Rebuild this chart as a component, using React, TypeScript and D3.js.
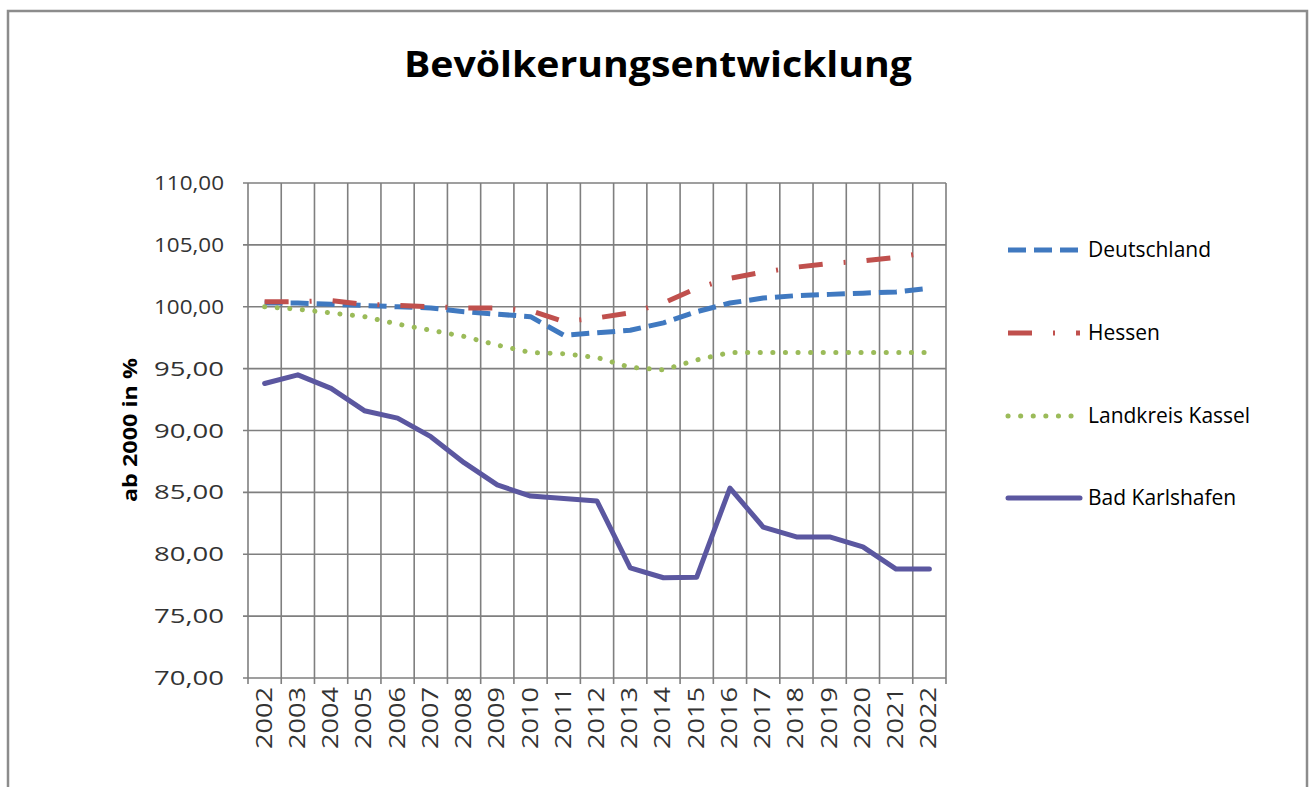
import React, { useEffect, useRef } from "react"
import * as d3 from "d3"

const years = [
  "2002", "2003", "2004", "2005", "2006", "2007", "2008", "2009", "2010", "2011", "2012",
  "2013", "2014", "2015", "2016", "2017", "2018", "2019", "2020", "2021", "2022"
]

const deutschland = [
  100.3, 100.3, 100.2, 100.1, 100.0, 99.9, 99.6, 99.4, 99.2, 97.7, 97.9,
  98.1, 98.7, 99.6, 100.3, 100.7, 100.9, 101.0, 101.1, 101.2, 101.5
]

const hessen = [
  100.4, 100.4, 100.5, 100.2, 100.1, 100.0, 99.9, 99.9, 99.7, 98.8, 99.1,
  99.5, 100.3, 101.5, 102.3, 102.8, 103.2, 103.5, 103.7, 104.0, 104.4
]

const landkreisKassel = [
  100.0, 99.8, 99.5, 99.2, 98.6, 98.1, 97.6, 96.9, 96.3, 96.2, 95.9,
  95.1, 94.9, 95.7, 96.3, 96.3, 96.3, 96.3, 96.3, 96.3, 96.3
]

const badKarlshafen = [
  93.8, 94.5, 93.4, 91.6, 91.0, 89.5, 87.4, 85.6, 84.7, 84.5, 84.3,
  78.9, 78.1, 78.15, 85.35, 82.2, 81.4, 81.4, 80.6, 78.8, 78.8
]

const yTicks = [70, 75, 80, 85, 90, 95, 100, 105, 110]

const seriesNames = ["Deutschland", "Hessen", "Landkreis Kassel", "Bad Karlshafen"]

const W = 1312
const H = 787

export default function App() {
  const ref = useRef<SVGSVGElement>(null)

  useEffect(() => {
    const svg = d3.select(ref.current)
    svg.selectAll("*").remove()

    const left = 248
    const right = 946
    const top = 183
    const bottom = 678
    const font = "'Open Sans', 'Liberation Sans', sans-serif"
    const grid = "#7f7f7f"

    const x = d3.scaleBand().domain(years).range([left, right])
    const y = d3.scaleLinear().domain([70, 110]).range([bottom, top])
    const cx = (yr: string) => (x(yr) as number) + x.bandwidth() / 2
    const fmt = (v: number) => d3.format(".2f")(v).replace(".", ",")

    // outer frame
    svg.append("rect")
      .attr("x", 8).attr("y", 11)
      .attr("width", 1299).attr("height", 790)
      .attr("fill", "#fff")
      .attr("stroke", "#8c8c8c")
      .attr("stroke-width", 2.5)

    svg.append("text")
      .attr("x", 658).attr("y", 77)
      .attr("text-anchor", "middle")
      .attr("font-family", font)
      .attr("font-weight", 700)
      .attr("font-size", 36)
      .attr("textLength", 508)
      .attr("lengthAdjust", "spacingAndGlyphs")
      .attr("fill", "#000")
      .text("Bevölkerungsentwicklung")

    // grid
    const g = svg.append("g")
    g.selectAll(".hg")
      .data(yTicks)
      .enter()
      .append("line")
      .attr("x1", left - 5).attr("x2", right)
      .attr("y1", d => y(d)).attr("y2", d => y(d))
      .attr("stroke", grid).attr("stroke-width", 1.6)

    const bounds = years.map(yr => x(yr) as number).concat([right])
    g.selectAll(".vg")
      .data(bounds)
      .enter()
      .append("line")
      .attr("x1", d => d).attr("x2", d => d)
      .attr("y1", top).attr("y2", bottom + 6)
      .attr("stroke", grid).attr("stroke-width", 1.6)

    // y tick labels
    svg.selectAll(".yl")
      .data(yTicks)
      .enter()
      .append("text")
      .attr("x", 224)
      .attr("y", d => y(d) + 7)
      .attr("text-anchor", "end")
      .attr("font-family", font)
      .attr("font-size", 20)
      .attr("textLength", 70)
      .attr("lengthAdjust", "spacingAndGlyphs")
      .attr("fill", "#333")
      .text(d => fmt(d))

    // x tick labels
    svg.selectAll(".xl")
      .data(years)
      .enter()
      .append("text")
      .attr("transform", d => `translate(${cx(d) + 7},${bottom + 9}) rotate(-90)`)
      .attr("text-anchor", "end")
      .attr("font-family", font)
      .attr("font-size", 21)
      .attr("textLength", 62)
      .attr("lengthAdjust", "spacingAndGlyphs")
      .attr("fill", "#333")
      .text(d => d)

    svg.append("text")
      .attr("transform", `translate(137,430) rotate(-90)`)
      .attr("text-anchor", "middle")
      .attr("font-family", font)
      .attr("font-weight", 700)
      .attr("font-size", 20)
      .attr("textLength", 144)
      .attr("lengthAdjust", "spacingAndGlyphs")
      .attr("fill", "#000")
      .text("ab 2000 in %")

    const styles = [
      { data: deutschland, color: "#4079c0", dash: "18 8", cap: "butt" },
      { data: hessen, color: "#c0504d", dash: "24 21 2 21", cap: "butt" },
      { data: landkreisKassel, color: "#9bbb59", dash: "0.1 12.5", cap: "round" },
      { data: badKarlshafen, color: "#5b57a0", dash: null, cap: "round" }
    ]

    const line = d3.line<number>()
      .x((_, i) => cx(years[i]))
      .y(d => y(d))

    styles.forEach(s => {
      svg.append("path")
        .attr("d", line(s.data))
        .attr("fill", "none")
        .attr("stroke", s.color)
        .attr("stroke-width", 5)
        .attr("stroke-linecap", s.cap)
        .attr("stroke-linejoin", "round")
        .attr("stroke-dasharray", s.dash)
    })

    // legend
    const legendY = [250, 333, 416, 498]
    styles.forEach((s, i) => {
      svg.append("line")
        .attr("x1", 1008).attr("x2", 1080)
        .attr("y1", legendY[i]).attr("y2", legendY[i])
        .attr("stroke", s.color)
        .attr("stroke-width", 5)
        .attr("stroke-linecap", s.cap)
        .attr("stroke-dasharray", s.dash)
      svg.append("text")
        .attr("x", 1088).attr("y", legendY[i] + 7)
        .attr("font-family", font)
        .attr("font-size", 21)
        .attr("fill", "#000")
        .text(seriesNames[i])
    })
  }, [])

  return (
    <svg
      ref={ref}
      width={W}
      height={H}
      style={{ position: "absolute", left: 0, top: 0, background: "#fff" }}
    />
  )
}
